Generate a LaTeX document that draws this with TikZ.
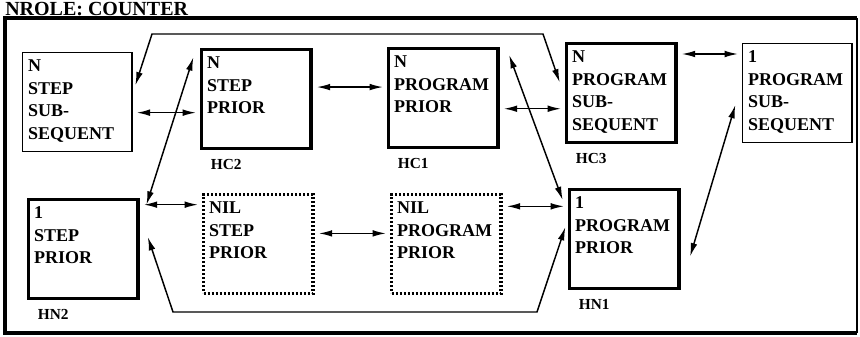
\documentclass[tikz,border=0pt]{standalone}
\usepackage{fontspec}
\setmainfont{Liberation Serif}
\usetikzlibrary{arrows.meta}

\begin{document}
\begin{tikzpicture}[x=0.75pt, y=-0.75pt,
  box/.style={anchor=north west, align=left, text width=74pt, inner xsep=4pt, inner ysep=3pt,
    text height=11pt, text depth=57pt, font=\fontsize{13.5}{17}\selectfont\bfseries},
  hard/.style={box, draw, line width=2.6pt},
  soft/.style={box, draw, line width=1pt},
  nil/.style={box, draw, line width=2.6pt, dash pattern=on 1.4pt off 1.6pt},
  tag/.style={anchor=north west, font=\fontsize{11.5}{13}\selectfont\bfseries, inner sep=0pt, xshift=8pt, yshift=-7pt},
  arrow/.style={{Latex[length=10pt,width=5pt]}-{Latex[length=10pt,width=5pt]}, line width=1.1pt},
  link/.style={arrow, shorten <=3pt, shorten >=3pt}]

  \useasboundingbox (0,0) rectangle (860,336);

  \node[anchor=base west, inner sep=0pt, font=\fontsize{15}{18}\selectfont\bfseries] (title) at (5,15) {NROLE: COUNTER};
  \draw[line width=3pt] (857,18) -- (5,18) -- (5,333) -- (857,333);
  \draw[line width=1.2pt] (857,18) -- (857,333);

  \node[soft] (ssq) at (22,52) {N\\STEP\\SUB-\\SEQUENT};
  \node[hard, label={[tag]south west:HC2}] (hc2) at (200,48) {N\\STEP\\PRIOR};
  \node[hard, label={[tag]south west:HC1}] (hc1) at (387,47) {N\\PROGRAM\\PRIOR};
  \node[hard, label={[tag]south west:HC3}] (hc3) at (565,42) {N\\PROGRAM\\SUB-\\SEQUENT};
  \node[soft] (pss) at (742,43) {1\\PROGRAM\\SUB-\\SEQUENT};

  \node[hard, label={[tag]south west:HN2}] (hn2) at (27,198) {1\\STEP\\PRIOR};
  \node[nil] (nstep) at (202,193) {NIL\\STEP\\PRIOR};
  \node[nil] (nprog) at (390,193) {NIL\\PROGRAM\\PRIOR};
  \node[hard, label={[tag]south west:HN1}] (hn1) at (568,188) {1\\PROGRAM\\PRIOR};

  \draw[link] ([yshift=-8pt]ssq.east) coordinate (a) -- (a -| hc2.west);
  \draw[link] ([yshift=9pt]hc2.east) coordinate (a) -- (a -| hc1.west);
  \draw[link] ([yshift=-8pt]hc1.east) coordinate (a) -- (a -| hc3.west);
  \draw[link] ([yshift=-9pt]hc3.north east) coordinate (a) -- (a -| pss.west);
  \draw[link] ([yshift=-5pt]hn2.north east) coordinate (a) -- (a -| nstep.west);
  \draw[link] ([yshift=8pt]nstep.east) coordinate (a) -- (a -| nprog.west);
  \draw[link] ([yshift=-10pt]nprog.north east) coordinate (a) -- (a -| hn1.west);

  \draw[arrow] ([xshift=-5pt,yshift=-7pt]hc2.north west) -- ([xshift=5pt,yshift=-5pt]hn2.north east);
  \draw[arrow] ([xshift=7pt,yshift=-6pt]hc1.north east) -- ([xshift=-4pt,yshift=-9pt]hn1.north west);
  \draw[arrow] ([xshift=-5pt,yshift=-9pt]pss.west) -- ([xshift=7pt,yshift=-13pt]hn1.east);

  \coordinate (tr) at (543,34);
  \coordinate (tl) at (152,34);
  \draw[arrow] ([xshift=-4pt,yshift=8pt]hc3.west) -- (tr) -- (tl) -- ([xshift=2pt,yshift=-25pt]ssq.north east);
  \coordinate (bl) at (173,312);
  \coordinate (br) at (537,312);
  \draw[arrow] ([xshift=6pt,yshift=9pt]hn2.east) -- (bl) -- (br) -- ([xshift=-2pt,yshift=9pt]hn1.west);
\end{tikzpicture}
\end{document}
